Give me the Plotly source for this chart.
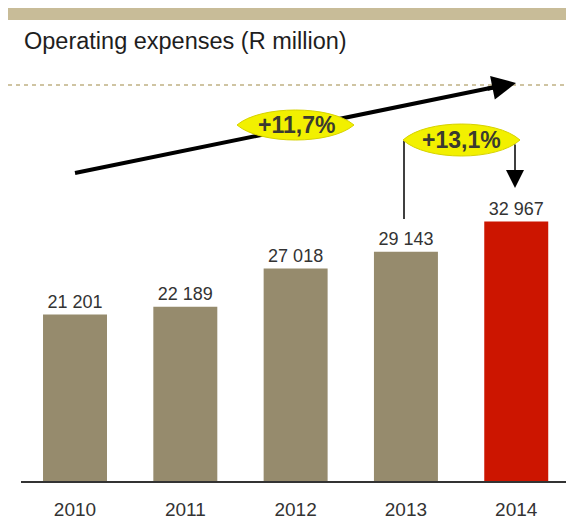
import plotly.graph_objects as go

# ---- data ----
years = ["2010", "2011", "2012", "2013", "2014"]
opex = [21201, 22189, 27018, 29143, 32967]
bar_colors = ["#968B6D", "#968B6D", "#968B6D", "#968B6D", "#CC1500"]
title_text = "Operating expenses (R million)"
cagr_label = "+11,7%"
yoy_label = "+13,1%"

W, H = 566, 520
PLOT_BOTTOM = 482  # pixel row of plot bottom (margin t=0)

def px(x):
    return x / W

def py(y):
    return 1 - y / PLOT_BOTTOM

fig = go.Figure()
fig.add_trace(go.Bar(
    x=years, y=opex,
    marker=dict(color=bar_colors, line=dict(width=0)),
    width=0.58,
    text=opex,
    texttemplate="%{y:,}",
    textposition="outside",
    constraintext="none",
    cliponaxis=False,
    textfont=dict(family="Liberation Sans, Arial", size=18, color="#333333"),
    hoverinfo="skip",
))

shapes = []
# top band
shapes.append(dict(type="rect", xref="paper", yref="paper",
                   x0=px(8), x1=px(566), y0=py(20), y1=py(8),
                   fillcolor="#C8BC98", line=dict(width=0), layer="below"))
# dotted guide line
shapes.append(dict(type="line", xref="paper", yref="paper",
                   x0=px(8), x1=px(566), y0=py(85), y1=py(85),
                   line=dict(color="#CFC4A2", width=2, dash="4px,4px")))
# baseline
shapes.append(dict(type="line", xref="paper", yref="paper",
                   x0=px(21), x1=px(566), y0=py(482), y1=py(482),
                   line=dict(color="#333333", width=2)))
# trend line (body)
shapes.append(dict(type="line", xref="paper", yref="paper",
                   x0=px(75), y0=py(173), x1=px(500), y1=py(86),
                   line=dict(color="#000000", width=4)))
# left connector of yoy bubble
shapes.append(dict(type="line", xref="paper", yref="paper",
                   x0=px(404), x1=px(404), y0=py(141), y1=py(219),
                   line=dict(color="#000000", width=1.5)))


def lens(x0, x1, yc, hh):
    w = x1 - x0
    c0 = x0 + 0.2 * w
    c1 = x1 - 0.2 * w
    h = hh * 4 / 3
    return (f"M {px(x0)},{py(yc)} "
            f"C {px(c0)},{py(yc - h)} {px(c1)},{py(yc - h)} {px(x1)},{py(yc)} "
            f"C {px(c1)},{py(yc + h)} {px(c0)},{py(yc + h)} {px(x0)},{py(yc)} Z")

shapes.append(dict(type="path", xref="paper", yref="paper", path=lens(237, 354, 125, 15),
                   fillcolor="#F2F000", line=dict(color="#D6D200", width=1), layer="above"))
shapes.append(dict(type="path", xref="paper", yref="paper", path=lens(403, 520, 140, 16),
                   fillcolor="#F2F000", line=dict(color="#D6D200", width=1), layer="above"))

annotations = [
    dict(text=title_text, xref="paper", yref="paper", x=px(22), y=py(41),
         xanchor="left", yanchor="middle", showarrow=False,
         font=dict(family="Liberation Sans, Arial", size=23.5, color="#1E1E1E")),
    dict(text=cagr_label, xref="paper", yref="paper", x=px(296), y=py(125),
         xanchor="center", yanchor="middle", showarrow=False,
         font=dict(family="Liberation Sans, Arial", size=23, color="#3A3A30", weight="bold")),
    dict(text=yoy_label, xref="paper", yref="paper", x=px(461), y=py(140),
         xanchor="center", yanchor="middle", showarrow=False,
         font=dict(family="Liberation Sans, Arial", size=23, color="#3A3A30", weight="bold")),
    # trend arrow head
    dict(text="", xref="paper", yref="paper", x=px(516), y=py(83),
         ax=-30, ay=6, axref="pixel", ayref="pixel",
         showarrow=True, arrowhead=2, arrowsize=1.2, arrowwidth=4,
         arrowcolor="#000000", standoff=0),
    # down arrow from yoy bubble
    dict(text="", xref="paper", yref="paper", x=px(515), y=py(188),
         ax=0, ay=-45, axref="pixel", ayref="pixel",
         showarrow=True, arrowhead=2, arrowsize=2.4, arrowwidth=1.5,
         arrowcolor="#000000", standoff=0),
]

fig.update_layout(
    width=W, height=H,
    margin=dict(l=0, r=0, t=0, b=H - PLOT_BOTTOM, autoexpand=False),
    paper_bgcolor="white", plot_bgcolor="white",
    separators=", ",
    showlegend=False,
    shapes=shapes,
    annotations=annotations,
    xaxis=dict(range=[-0.680, 4.451], showgrid=False, zeroline=False, showline=False,
               automargin=False,
               ticks="", ticklabelstandoff=14,
               tickfont=dict(family="Liberation Sans, Arial", size=19, color="#333333")),
    yaxis=dict(range=[0, PLOT_BOTTOM / 0.0079], visible=False, showgrid=False, zeroline=False,
               automargin=False),
    font=dict(family="Liberation Sans, Arial"),
)

fig.write_html("out.html",
               config={"displayModeBar": False},
               post_script="document.body.style.margin='0';document.body.style.padding='0';")
